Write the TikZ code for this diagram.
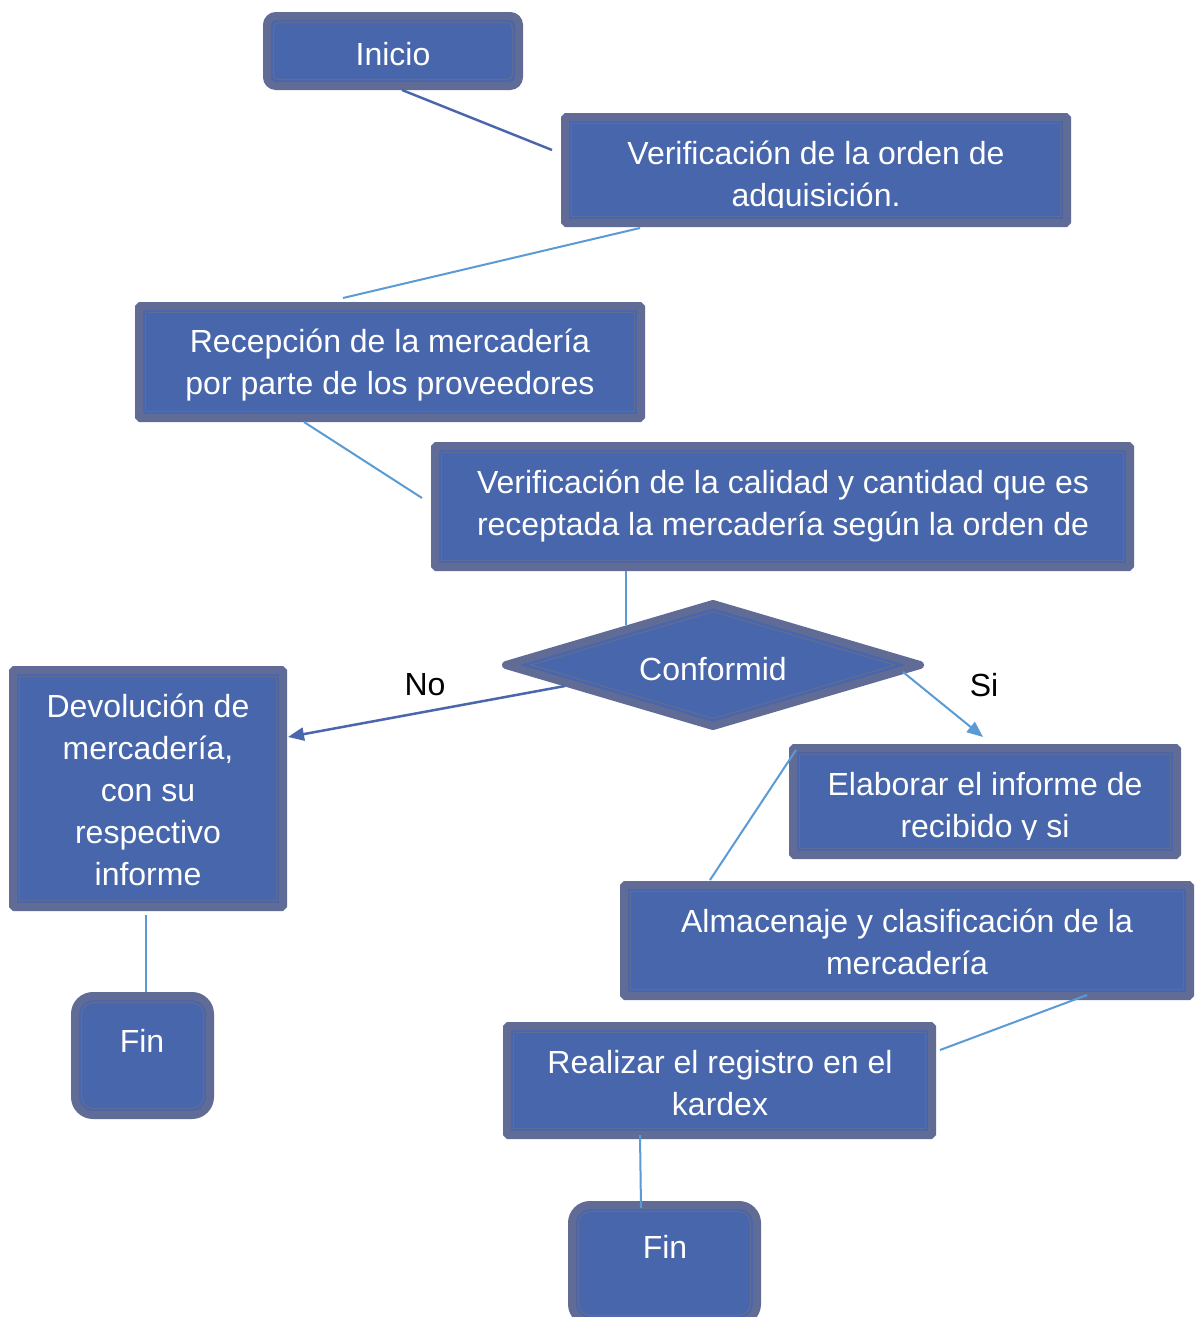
\documentclass[tikz,border=0pt]{standalone}
\usepackage{fontspec}
\setmainfont{Liberation Sans}
\usetikzlibrary{arrows.meta,shapes.geometric,calc}
\definecolor{fillc}{RGB}{72,102,172}
\definecolor{bordc}{RGB}{96,108,150}
\definecolor{lblue}{RGB}{91,155,213}
\definecolor{dblue}{RGB}{74,102,172}
\tikzset{
  box/.style={draw=bordc, fill=fillc, line width=8pt, rounded corners=1.5pt, inner sep=0pt, outer sep=0pt},
  innerline/.style={draw=bordc, line width=1.2pt},
  txt/.style={text=white, font=\fontsize{32}{42}\selectfont, align=center, inner sep=0pt},
  lbl/.style={text=black, font=\fontsize{32}{42}\selectfont, inner sep=0pt},
  conn/.style={draw=lblue, line width=2pt},
  dconn/.style={draw=dblue, line width=2.5pt},
  arr/.style={-{Triangle[length=16pt,width=13pt]}},
}
\begin{document}
\begin{tikzpicture}[x=1pt,y=-1pt]
\clip (0,0) rectangle (1202,1317);
\fill[white] (0,0) rectangle (1202,1317);

% boxes
\node[box, rounded corners=9pt, minimum width=252pt, minimum height=70pt] (ini) at (393,51) {};
\draw[innerline, rounded corners=5pt] ([shift={(6.5,6.5)}]ini.north west) rectangle ([shift={(-6.5,-6.5)}]ini.south east);
\node[txt] (ini-t) at (393,54) {Inicio};

\node[box, minimum width=502pt, minimum height=106pt] (vo) at (816,170) {};
\draw[innerline] ([shift={(6.5,6.5)}]vo.north west) rectangle ([shift={(-6.5,-6.5)}]vo.south east);
\begin{scope}
\clip ([shift={(0,-16)}]vo.south west) rectangle (vo.north east);
\node[txt] (vo-t) at (816,177) {Verificación de la orden de\\adquisición.};
\end{scope}

\node[box, minimum width=502pt, minimum height=112pt] (rec) at (390,362) {};
\draw[innerline] ([shift={(6.5,6.5)}]rec.north west) rectangle ([shift={(-6.5,-6.5)}]rec.south east);
\node[txt] (rec-t) at (390,365.5) {Recepción de la mercadería\\por parte de los proveedores};

\node[box, minimum width=695pt, minimum height=121pt] (vc) at (782.5,506.5) {};
\draw[innerline] ([shift={(6.5,6.5)}]vc.north west) rectangle ([shift={(-6.5,-6.5)}]vc.south east);
\node[txt] (vc-t) at (783,506) {Verificación de la calidad y cantidad que es\\receptada la mercadería según la orden de};

\node[diamond, draw=bordc, fill=fillc, line width=8pt, line join=round, minimum width=414pt, minimum height=122pt, inner sep=0pt, outer sep=0pt] (dia) at (713,665) {};
\node[diamond, draw=bordc, line width=1.2pt, minimum width=364pt, minimum height=107pt, inner sep=0pt, outer sep=0pt] (diai) at (dia.center) {};
\node[txt] (dia-t) at (713,669) {Conformid};

\node[box, minimum width=270pt, minimum height=237pt] (dev) at (148,788.5) {};
\draw[innerline] ([shift={(6.5,6.5)}]dev.north west) rectangle ([shift={(-6.5,-6.5)}]dev.south east);
\node[txt] (dev-t) at (148,790) {Devolución de\\mercadería,\\con su\\respectivo\\informe};

\node[box, rounded corners=18pt, minimum width=135pt, minimum height=119pt] (fin1) at (142.5,1055.5) {};
\draw[innerline, rounded corners=12pt] ([shift={(6.5,6.5)}]fin1.north west) rectangle ([shift={(-6.5,-6.5)}]fin1.south east);
\node[txt] (fin1-t) at (142,1041) {Fin};

\node[box, minimum width=384pt, minimum height=107pt] (ela) at (985,801.5) {};
\draw[innerline] ([shift={(6.5,6.5)}]ela.north west) rectangle ([shift={(-6.5,-6.5)}]ela.south east);
\begin{scope}
\clip ([shift={(0,-16)}]ela.south west) rectangle (ela.north east);
\node[txt] (ela-t) at (985,808) {Elaborar el informe de\\recibido y si};
\end{scope}

\node[box, minimum width=566pt, minimum height=111pt] (alm) at (907,940.5) {};
\draw[innerline] ([shift={(6.5,6.5)}]alm.north west) rectangle ([shift={(-6.5,-6.5)}]alm.south east);
\node[txt] (alm-t) at (907,941.5) {Almacenaje y clasificación de la\\mercadería};

\node[box, minimum width=425pt, minimum height=109pt] (real) at (719.5,1080.5) {};
\draw[innerline] ([shift={(6.5,6.5)}]real.north west) rectangle ([shift={(-6.5,-6.5)}]real.south east);
\node[txt] (real-t) at (720,1083) {Realizar el registro en el\\kardex};

\node[box, rounded corners=18pt, minimum width=185pt, minimum height=117pt] (fin2) at (664.5,1263.5) {};
\draw[innerline, rounded corners=12pt] ([shift={(6.5,6.5)}]fin2.north west) rectangle ([shift={(-6.5,-6.5)}]fin2.south east);
\node[txt] (fin2-t) at (665,1247) {Fin};

% labels
\node[lbl] (no) at (425,685) {No};
\node[lbl] (si) at (984,685) {Si};

% connectors
\draw[dconn] ([shift={(9,4)}]ini.south) -- ([shift={(-13,-20)}]vo.west);
\draw[conn] ([shift={(-176,5)}]vo.south) -- ([shift={(-47,-8)}]rec.north);
\draw[conn] ([shift={(-86,4)}]rec.south) -- ([shift={(-13,-8.5)}]vc.west);
\draw[conn] ([shift={(-156.5,4)}]vc.south) -- ([shift={(-87,-40)}]dia.center);
\draw[dconn, arr] ([shift={(-148,21)}]dia.center) -- ([shift={(5,-51.5)}]dev.east);
\draw[conn, arr] ([shift={(190,7)}]dia.center) -- ([shift={(-2,-11)}]ela.north);
\draw[conn] ([shift={(3,2)}]ela.north west) -- ([shift={(-197,-5)}]alm.north);
\draw[conn] ([shift={(180,-1)}]alm.south) -- ([shift={(8,-30.5)}]real.east);
\draw[conn] ([shift={(-79.5,0)}]real.south) -- ([shift={(-23.5,3)}]fin2.north);
\draw[conn] ([shift={(-2,8)}]dev.south) -- ([shift={(3.5,-4)}]fin1.north);
\end{tikzpicture}
\end{document}
